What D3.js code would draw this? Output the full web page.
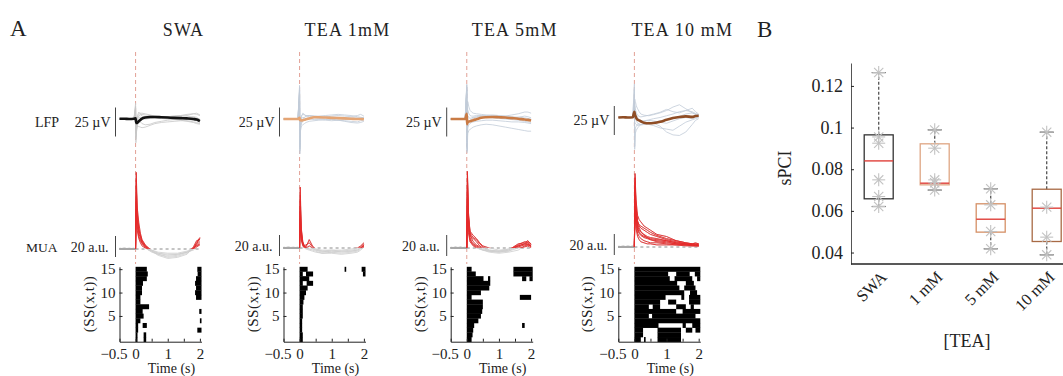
<!DOCTYPE html>
<html><head><meta charset="utf-8">
<script src="https://cdn.jsdelivr.net/npm/d3@7"></script>
<style>
body{margin:0;background:#fff;}
svg{display:block;}
text{font-family:"Liberation Serif","DejaVu Serif",serif;fill:#222;}
</style></head><body>
<svg id="fig" width="1063" height="376"></svg>
<script>
// ---------- Panel A: evoked responses ----------
const conditions = ["SWA", "TEA 1mM", "TEA 5mM", "TEA 10 mM"];

// LFP sample times (s) and traces (µV)
const lfpTime = [-0.5, -0.35, -0.2, -0.05, 0, 0.01, 0.03, 0.06, 0.1, 0.15, 0.2, 0.3, 0.45, 0.6, 0.8, 1.0, 1.2, 1.4, 1.6, 1.8, 1.9, 2.0];

const lfpMeanSWA  = [0.5, 0.5, 0, 0.5, 1, -3, -7, -6, -4, -1.5, 0.5, 2.5, 3.5, 3.5, 3, 2.5, 2, 1.5, 1, 0, -1, -3.5];
const lfpMean1mM  = [0, 0, 0, 0, 2, -2, -2, -2.5, -2, -1.5, -0.5, 1, 3, 3, 2.5, 2, 1.5, 1, 0.5, 0, 0, -0.5];
const lfpMean5mM  = [0, 0, 0, 0, 9, -9, -5, -4.5, -4, -3, -2, -0.5, 2, 3, 3.5, 3, 2.5, 1.5, 0.5, -1, -1.5, -2.5];
const lfpMean10mM = [0, 0.5, 0, 0.5, 10, 7, 3, -1, -4, -5, -6.5, -9, -10, -9.5, -7.5, -4, -1, 1, 2, 1, 2.5, 3];

const lfpTrialsSWA = [
  [0, 0.5, 0, 0, 27, -10, -4, 2, 5, 7, 8, 7, 6, 5, 3, 2, 2, 4, 6, 9, 10, 7],
  [0, 0, -0.5, 0, 12, -41, -22, -10, -5, -1, 2, 4, 5, 4, 3, 2, 1, 0, -1, -2, -3, -6],
  [0.5, 0, 0, 0, 18, -30, -15, -12, -13, -14, -15, -14, -11, -8, -6, -5, -4, -3, -3, -5, -6, -8],
  [0, 0, 0.5, 0, 8, -20, -4, 4, 8, 10, 10, 9, 7, 5, 4, 4, 5, 6, 8, 9, 8, 6],
  [0, -0.5, 0, 0, 22, -35, -18, -8, -3, -5, -8, -10, -9, -6, -4, -2, -1, -2, -4, -6, -8, -9],
  [0, 0, 0, 0.5, 15, -26, -9, -1, 3, 3, 2, 0, 1, 2, 3, 4, 5, 6, 5, 3, 1, 0],
  [0, 0, 0, 0, 20, -15, 0, 6, 12, 9, 5, 3, 2, 2, 1, 0, -1, 0, 2, 4, 3, -2]
];
const lfpTrials1mM = [
  [0, 0, 0, 0, 58, -55, -10, 4, 10, 8, 5, 4, 3, 2, 3, 5, 6, 5, 4, 6, 8, 5],
  [0, 0.5, 0, 0, 50, -60, -20, -12, -10, -8, -6, -4, -3, -2, -1, 0, -2, -3, -4, -5, -3, -2],
  [0, 0, 0, 0, 45, -48, -5, 6, 8, 7, 6, 6, 5, 5, 6, 7, 8, 7, 6, 4, 3, 2],
  [0, 0, -0.5, 0, 55, -40, -12, -6, -4, -2, 0, 1, 2, 1, 0, -1, -2, -4, -6, -7, -6, -4],
  [0, 0, 0, 0, 40, -52, -8, 0, 3, 2, 1, 0, -1, -1, -2, -3, -2, -1, 0, 1, 2, 3],
  [0.5, 0, 0, 0, 48, -45, -15, -8, -2, 3, 5, 6, 5, 4, 4, 3, 3, 2, 2, 2, 1, 0]
];
const lfpTrials5mM = [
  [0, 0, 0, 0, 60, -50, 30, 22, 15, 12, 10, 9, 8, 7, 6, 5, 5, 7, 9, 12, 12, 10],
  [0, 0, 0, 0, 55, -58, -25, -20, -18, -16, -14, -12, -10, -9, -10, -12, -14, -16, -18, -20, -21, -21],
  [0, 0.5, 0, 0, 50, -45, 15, 10, 6, 5, 5, 6, 6, 5, 4, 3, 2, 1, 3, 5, 4, 2],
  [0, 0, 0, 0, 58, -52, -15, -10, -8, -6, -5, -4, -3, -2, -2, -3, -4, -5, -5, -6, -7, -8],
  [0, 0, 0.5, 0, 45, -40, 5, 3, 1, 2, 3, 4, 5, 6, 7, 6, 5, 4, 3, 2, 1, 0],
  [0, 0, 0, 0, 52, -55, -8, -5, -2, 0, 2, 3, 4, 3, 2, 1, 0, -1, -2, -4, -5, -6]
];
const lfpTrials10mM = [
  [0, 0, 0, 0, 25, 32, 28, 20, 15, 10, 6, 4, 3, 5, 8, 12, 18, 22, 15, 8, 6, 4],
  [0, 0, 0, 0, 58, -55, -27, -22, -18, -15, -12, -10, -8, -10, -15, -25, -30, -31, -25, -12, -5, -2],
  [0, 0.5, 0, 0, 15, 10, 5, -5, -10, -12, -13, -12, -10, -8, -6, -4, -2, 2, 6, 8, 5, 3],
  [0, 0, 0, 0, 18, 20, 12, 5, 0, -3, -5, -6, -4, -2, 0, 3, 6, 10, 12, 10, 7, 5],
  [0, 0, 0, 0, 50, -50, -18, -15, -12, -10, -8, -6, -5, -6, -8, -10, -6, -2, 0, -2, 0, 1],
  [0, 0, -0.5, 0, 22, 25, 15, 8, 4, 2, 1, 2, 4, 6, 9, 14, 10, 8, 12, 16, 10, 6],
  [0, 0, 0, 0, 16, -8, -10, -12, -14, -13, -12, -11, -12, -14, -18, -20, -22, -15, -8, -4, -2, 0]
];

// MUA sample times (s) and channel envelopes (a.u.)
const muaTime = [-0.5, -0.35, -0.2, -0.05, 0, 0.02, 0.05, 0.1, 0.15, 0.2, 0.3, 0.4, 0.5, 0.7, 1.0, 1.3, 1.6, 1.8, 1.9, 2.0];

const muaSWA = [
  [0, 0.5, 0, 0, 0, 73, 40, 25, 15, 9, 4, 1, -1, -4, -6, -5, -3, 1, 6, 11],
  [0, 0, 0.5, 0, 0, 60, 35, 20, 12, 7, 3, 0, -2, -6, -9, -8, -5, 2, 8, 9],
  [0.5, 0, 0, 0, 0, 50, 28, 15, 10, 6, 2, -1, -3, -5, -7, -6, -3, 0, 4, 7],
  [0, 0, 0, 0.5, 0, 45, 22, 12, 8, 5, 2, 0, -1, -3, -4, -4, -2, 1, 3, 5],
  [0, 0, 0, 0, 0, 66, 30, 18, 13, 8, 3, 1, -2, -5, -8, -7, -4, 0, 5, 10],
  [0, 0.5, 0, 0, 0, 38, 18, 10, 6, 3, 1, -1, -2, -4, -5, -5, -3, -1, 2, 4]
];
const mua1mM = [
  [0, 0, 0.5, 0, 0, 58, 20, 6, 2, 1, 8, 2, -1, -3, -2, -3, -2, -1, 1, 4],
  [0, 0.5, 0, 0, 0, 45, 15, 4, 1, 0, 2, 0, -2, -4, -3, -4, -3, -2, 0, 2],
  [0.5, 0, 0, 0, 0, 35, 10, 3, 1, 0, -1, -2, -3, -5, -4, -5, -4, -3, -1, 3],
  [0, 0, 0, 0.5, 0, 50, 18, 5, 2, 3, 5, 1, -1, -2, -2, -2, -1, 0, 2, 5],
  [0, 0, 0, 0, 0, 28, 8, 2, 0, -1, -2, -3, -4, -5, -5, -6, -5, -4, -2, 1],
  [0, 0.5, 0, 0, 0, 40, 12, 4, 1, 0, -1, -1, -2, -3, -4, -3, -3, -2, 0, 2]
];
const mua5mM = [
  [0, 0, 0.5, 0, 0, 73, 35, 15, 12, 10, 8, 4, 1, -2, -3, -2, 3, 6, 5, 2],
  [0, 0.5, 0, 0, 0, 60, 28, 12, 10, 9, 6, 2, 0, -3, -4, -2, 4, 5, 7, 3],
  [0.5, 0, 0, 0, 0, 55, 22, 10, 6, 4, 2, 0, -2, -3, -4, -3, 2, 4, 4, 1],
  [0, 0, 0, 0.5, 0, 66, 30, 14, 9, 6, 3, 1, -1, -2, -3, -1, 1, 3, 6, 4],
  [0, 0, 0, 0, 0, 48, 18, 8, 5, 3, 1, -1, -2, -4, -5, -4, -2, 2, 3, 2],
  [0, 0.5, 0, 0, 0, 40, 15, 6, 4, 2, 0, -1, -2, -3, -3, -3, 0, 1, 2, 0],
  [0, 0, 0.5, 0, 0, 70, 32, 16, 14, 12, 9, 5, 2, 0, -2, -1, 2, 4, 3, 2]
];
const mua10mM = [
  [0, 0, 0.5, 0, 0, 70, 45, 30, 26, 24, 20, 18, 16, 12, 10, 6, 4, 3, 3, 3],
  [0, 0.5, 0, 0, 0, 62, 38, 25, 20, 18, 16, 14, 12, 10, 7, 5, 3, 2, 2, 2],
  [0.5, 0, 0, 0, 0, 55, 30, 20, 16, 14, 12, 10, 9, 8, 6, 4, 3, 3, 4, 3],
  [0, 0, 0, 0.5, 0, 66, 40, 22, 18, 15, 11, 9, 7, 6, 5, 3, 2, 2, 2, 1],
  [0, 0, 0, 0, 0, 50, 26, 16, 13, 11, 9, 8, 7, 5, 4, 3, 2, 2, 1, 1],
  [0, 0.5, 0, 0, 0, 45, 22, 13, 10, 8, 6, 5, 4, 4, 3, 2, 2, 1, 1, 1],
  [0, 0, 0.5, 0, 0, 58, 34, 24, 21, 20, 18, 16, 14, 11, 8, 6, 4, 3, 3, 2],
  [0, 0, 0, 0, 0, 40, 18, 10, 7, 5, 4, 3, 3, 2, 2, 2, 1, 1, 1, 1],
  [0, 0, 0, 0.5, 0, 48, 28, 18, 14, 12, 10, 9, 8, 7, 6, 4, 3, 2, 2, 2]
];

// Binarised significance per channel: [channel, start (s), end (s)]
const rasterSWA = [
  [15, 0, 0.35], [15, 1.92, 2.05], [14, 0, 0.38], [14, 1.93, 2.05], [13, 0, 0.35], [13, 1.88, 2.05],
  [12, 0, 0.23], [12, 1.85, 2.05], [11, 0, 0.2], [11, 1.88, 2.05], [10, 0, 0.2], [10, 1.85, 2.05],
  [9, 0, 0.15], [9, 1.88, 2.05], [8, 0, 0.15], [7, 0, 0.42], [6, 0, 0.22], [6, 1.98, 2.05],
  [5, 0, 0.25], [4, 0, 0.15], [4, 2.0, 2.05], [3, 0, 0.08], [3, 0.22, 0.35], [2, 0, 0.08], [2, 1.92, 2.05],
  [1, 0, 0.06], [1, 0.25, 0.33], [0, 0, 0.06], [0, 0.25, 0.33]
];
const raster1mM = [
  [15, 0, 0.25], [15, 1.4, 1.45], [15, 1.93, 2.05], [14, 0, 0.1], [14, 0.2, 0.42], [14, 1.97, 2.05],
  [13, 0, 0.3], [12, 0, 0.1], [12, 0.22, 0.42], [11, 0, 0.25], [10, 0, 0.2], [9, 0, 0.15],
  [8, 0, 0.12], [7, 0, 0.1], [6, 0, 0.1], [5, 0, 0.1], [4, 0, 0.08], [3, 0, 0.08],
  [2, 0, 0.08], [1, 0, 0.1], [0, 0, 0.1]
];
const raster5mM = [
  [15, 0, 0.15], [15, 1.45, 2.05], [14, 0, 0.28], [14, 1.45, 2.05], [13, 0, 0.52], [13, 0.66, 0.73],
  [13, 1.72, 1.85], [13, 1.95, 2.05], [12, 0, 0.73], [11, 0, 0.7], [10, 0, 0.44], [9, 0, 0.15], [9, 1.65, 2.0],
  [8, 0, 0.5], [7, 0, 0.5], [6, 0, 0.48], [5, 0, 0.44], [4, 0, 0.36], [3, 0, 0.23], [3, 1.72, 1.8],
  [2, 0, 0.2], [1, 0, 0.18], [0, 0, 0.15]
];
const raster10mM = [
  [15, 0, 2.05], [14, 0, 1.05], [14, 1.3, 1.72], [14, 1.88, 2.05], [13, 0, 1.1], [13, 1.25, 1.8], [13, 1.95, 2.05],
  [12, 0, 1.33], [12, 1.6, 1.85], [11, 0, 1.4], [11, 1.55, 1.9], [10, 0, 1.55], [10, 1.73, 1.95],
  [9, 0, 0.97], [9, 1.46, 1.55], [9, 1.7, 2.05], [8, 0, 0.8], [8, 1.05, 1.3], [8, 1.7, 2.05],
  [7, 0, 0.45], [7, 0.57, 0.8], [7, 1.3, 1.6], [7, 1.75, 1.85], [6, 0, 1.3], [6, 1.5, 2.05],
  [5, 0, 0.45], [5, 0.55, 1.9], [4, 0, 2.05], [3, 0, 0.75], [3, 1.5, 1.6], [3, 1.8, 2.05],
  [2, 0, 0.27], [2, 0.72, 1.45], [2, 1.6, 1.8], [2, 1.9, 2.05], [1, 0, 0.27], [1, 0.72, 1.45],
  [0, 0, 0.2], [0, 0.3, 0.35], [0, 0.72, 1.45]
];

const rasterTicks = [-0.5, 0, 0.5, 1, 1.5, 2];
const rasterTickLabels = ["\u22120.5", "0", "", "1", "", "2"];
const channelTicks = [5, 10, 15];

// ---------- Panel B: sPCI ----------
const groups = ["SWA", "1 mM", "5 mM", "10 mM"];
const spciPoints = [
  [0.1264, 0.0955, 0.0925, 0.0749, 0.0669, 0.0621],
  [0.0989, 0.0901, 0.0749, 0.0735, 0.0700],
  [0.0706, 0.0629, 0.0501, 0.0418],
  [0.0978, 0.0618, 0.0474, 0.0389]
];
const boxQ1 = [0.0658, 0.0725, 0.0498, 0.0453];
const boxMedian = [0.0840, 0.0733, 0.0560, 0.0613];
const boxQ3 = [0.0965, 0.0922, 0.0634, 0.0704];
const whiskerLow = [0.0621, 0.0700, 0.0418, 0.0389];
const whiskerHigh = [0.1264, 0.0989, 0.0706, 0.0978];
const spciTicks = [0.04, 0.06, 0.08, 0.1, 0.12];
const spciTickLabels = ["0.04", "0.06", "0.08", "0.1", "0.12"];

// ---------- drawing ----------
const svg = d3.select("#fig");
const SERIF = '"Liberation Serif","DejaVu Serif",serif';

const panels = [
  {title: conditions[0], mean: lfpMeanSWA, trials: lfpTrialsSWA, mua: muaSWA, raster: rasterSWA},
  {title: conditions[1], mean: lfpMean1mM, trials: lfpTrials1mM, mua: mua1mM, raster: raster1mM},
  {title: conditions[2], mean: lfpMean5mM, trials: lfpTrials5mM, mua: mua5mM, raster: raster5mM},
  {title: conditions[3], mean: lfpMean10mM, trials: lfpTrials10mM, mua: mua10mM, raster: raster10mM}
];
const zeroX = [139.5, 303.5, 470.7, 638.3];
const meanColor = ["#111111", "#e5a574", "#c97b45", "#8f4d25"];
const trialColor = ["#c6c6c6", "#c2ccd8", "#c2ccd8", "#c2ccd8"];
const lfpBase = [119, 119, 119, 117.5];
const muaBase = [249, 248, 248, 247];

svg.append("text").attr("x", 10).attr("y", 36).attr("font-size", 23).text("A");
svg.append("text").attr("x", 35).attr("y", 127).attr("font-size", 14).text("LFP");
svg.append("text").attr("x", 26).attr("y", 252).attr("font-size", 13.5).text("MUA");

function styleAxis(sel, size) {
  sel.attr("font-family", SERIF).attr("font-size", size);
  sel.selectAll("path,line").attr("stroke", "#222");
  sel.selectAll("text").attr("fill", "#222");
}

panels.forEach((p, i) => {
  const z = zeroX[i];
  const x = d3.scaleLinear().domain([-0.5, 2.05]).range([z - 20, z + 62]);
  const g = svg.append("g");

  g.append("text").attr("x", z + 44).attr("y", 36).attr("text-anchor", "middle")
    .attr("font-size", 18).attr("letter-spacing", 1.2).text(p.title);

  // stimulus onset
  g.append("line").attr("x1", x(0)).attr("x2", x(0)).attr("y1", 52).attr("y2", 264)
    .attr("stroke", "#e2a095").attr("stroke-width", 1).attr("stroke-dasharray", "4,3");

  // LFP
  const yL = d3.scaleLinear().domain([-25, 25]).range([lfpBase[i] + 14.5, lfpBase[i] - 14.5]);
  const clipL = "clipL" + i;
  svg.append("clipPath").attr("id", clipL).append("rect")
    .attr("x", z - 22).attr("y", 52).attr("width", 90).attr("height", 135);
  const lineL = d3.line().x((d, k) => x(lfpTime[k])).y(d => yL(d));
  const gl = g.append("g").attr("clip-path", `url(#${clipL})`);
  p.trials.forEach(tr => gl.append("path").attr("d", lineL(tr)).attr("fill", "none")
    .attr("stroke", trialColor[i]).attr("stroke-width", 0.8));
  gl.append("path").attr("d", lineL.curve(d3.curveMonotoneX)(p.mean)).attr("fill", "none")
    .attr("stroke", meanColor[i]).attr("stroke-width", 2.6).attr("stroke-linejoin", "round");

  const barX = z - 24;
  g.append("line").attr("x1", barX).attr("x2", barX).attr("y1", yL(0) - 11.5).attr("y2", yL(0) + 17.5)
    .attr("stroke", "#444").attr("stroke-width", 1);
  g.append("text").attr("x", z - 29).attr("y", yL(0) + 7.5).attr("text-anchor", "end")
    .attr("font-size", 14).text("25 \u00B5V");

  // MUA
  const yM = d3.scaleLinear().domain([0, 20]).range([muaBase[i], muaBase[i] - 21]);
  const lineM = d3.line().x((d, k) => x(muaTime[k])).y(d => yM(d));
  g.append("line").attr("x1", x(0)).attr("x2", x(2)).attr("y1", yM(0)).attr("y2", yM(0))
    .attr("stroke", "#8a8a8a").attr("stroke-width", 1).attr("stroke-dasharray", "3,3");
  p.mua.forEach(ch => g.append("path").attr("d", lineM(ch)).attr("fill", "none")
    .attr("stroke", "#cdcdcd").attr("stroke-width", 0.8));
  const pre = d3.line().defined((d, k) => muaTime[k] <= 0).x((d, k) => x(muaTime[k])).y(d => yM(d));
  p.mua.forEach(ch => g.append("path").attr("d", pre(ch)).attr("fill", "none")
    .attr("stroke", "#a8a8a8").attr("stroke-width", 1.3));
  const clipM = "clipM" + i;
  svg.append("clipPath").attr("id", clipM).append("rect")
    .attr("x", z - 22).attr("y", 140).attr("width", 90).attr("height", yM(0) - 140 - 0.3);
  const post = d3.line().defined((d, k) => muaTime[k] >= 0).x((d, k) => x(muaTime[k])).y(d => yM(d));
  const gm = g.append("g").attr("clip-path", `url(#${clipM})`);
  p.mua.forEach(ch => gm.append("path").attr("d", post(ch)).attr("fill", "none")
    .attr("stroke", "#e52a2a").attr("stroke-width", 0.9));

  g.append("line").attr("x1", barX).attr("x2", barX).attr("y1", yM(0) - 13).attr("y2", yM(0) + 8)
    .attr("stroke", "#444").attr("stroke-width", 1);
  g.append("text").attr("x", z - 31).attr("y", yM(0) + 3).attr("text-anchor", "end")
    .attr("font-size", 14).text("20 a.u.");

  // raster
  const yR = d3.scaleLinear().domain([-0.5, 15.5]).range([341.7, 266.8]);
  g.append("g").selectAll("rect").data(p.raster).join("rect")
    .attr("x", d => x(d[1])).attr("width", d => x(d[2]) - x(d[1]))
    .attr("y", d => yR(d[0] + 0.5)).attr("height", d => yR(d[0] - 0.5) - yR(d[0] + 0.5) + 0.3)
    .attr("fill", "#000");

  const ax = g.append("g").attr("transform", `translate(0,${yR(-0.5)})`)
    .call(d3.axisBottom(x).tickValues(rasterTicks).tickFormat((d, k) => rasterTickLabels[k])
      .tickSize(-3).tickSizeOuter(0).tickPadding(7));
  styleAxis(ax, 15);
  // the leftmost label sits a little left of its tick
  ax.selectAll(".tick text").filter(d => d === -0.5).attr("dx", -6);
  const ay = g.append("g").attr("transform", `translate(${x(-0.5)},0)`)
    .call(d3.axisLeft(yR).tickValues(channelTicks).tickSize(-3).tickSizeOuter(0).tickPadding(4));
  styleAxis(ay, 15);

  g.append("text").attr("x", z + 32).attr("y", 373).attr("text-anchor", "middle")
    .attr("font-size", 14).text("Time (s)");
  g.append("text").attr("transform", `translate(${z - 46},${304}) rotate(-90)`)
    .attr("text-anchor", "middle").attr("font-size", 15).attr("letter-spacing", 0.5).text("(SS(x,t))");
});

// ---------- Panel B ----------
svg.append("text").attr("x", 757).attr("y", 37).attr("font-size", 23).text("B");

const yB = d3.scaleLinear().domain([0.0345, 0.131]).range([264, 63]);
const xB = d3.scalePoint().domain(groups).range([878.7, 1046.7]);
const boxColor = ["#333333", "#dfa684", "#d59066", "#a86a45"];
const boxW = 29;

const gB = svg.append("g");
const ayB = gB.append("g").attr("transform", "translate(851,0)")
  .call(d3.axisLeft(yB).tickValues(spciTicks).tickFormat((d, k) => spciTickLabels[k])
    .tickSize(-3).tickSizeOuter(0).tickPadding(8));
styleAxis(ayB, 18);
ayB.select(".domain").attr("stroke", "#555");
gB.append("line").attr("x1", 851).attr("x2", 1063).attr("y1", yB.range()[0]).attr("y2", yB.range()[0])
  .attr("stroke", "#222").attr("stroke-width", 1.6);

function star(cx, cy, r) {
  [0, 45, 90, 135].forEach(a => {
    const rad = a * Math.PI / 180, dx = Math.cos(rad) * r, dy = Math.sin(rad) * r;
    gB.append("line").attr("x1", cx - dx).attr("x2", cx + dx).attr("y1", cy - dy).attr("y2", cy + dy)
      .attr("stroke", "#c2c2c2").attr("stroke-width", 1.1);
  });
}

groups.forEach((grp, i) => {
  const cx = xB(grp);
  // whiskers
  [[boxQ3[i], whiskerHigh[i]], [boxQ1[i], whiskerLow[i]]].forEach(([a, b]) => {
    gB.append("line").attr("x1", cx).attr("x2", cx).attr("y1", yB(a)).attr("y2", yB(b))
      .attr("stroke", "#555").attr("stroke-width", 1.3).attr("stroke-dasharray", "3,2");
    gB.append("line").attr("x1", cx - 7).attr("x2", cx + 7).attr("y1", yB(b)).attr("y2", yB(b))
      .attr("stroke", "#444").attr("stroke-width", 1.2);
  });
  gB.append("rect").attr("x", cx - boxW / 2).attr("width", boxW)
    .attr("y", yB(boxQ3[i])).attr("height", yB(boxQ1[i]) - yB(boxQ3[i]))
    .attr("fill", "none").attr("stroke", boxColor[i]).attr("stroke-width", 1.3);
  gB.append("line").attr("x1", cx - boxW / 2).attr("x2", cx + boxW / 2)
    .attr("y1", yB(boxMedian[i])).attr("y2", yB(boxMedian[i]))
    .attr("stroke", "#e0403a").attr("stroke-width", 1.4);
  spciPoints[i].forEach(v => star(cx, yB(v), 6.5));

  gB.append("text").attr("transform", `translate(${cx + 2},${271}) rotate(-45)`)
    .attr("text-anchor", "end").attr("dy", "0.6em").attr("font-size", 16.5).text(grp);
});

gB.append("text").attr("x", 967).attr("y", 347).attr("text-anchor", "middle")
  .attr("font-size", 18).text("[TEA]");
gB.append("text").attr("transform", "translate(791,168) rotate(-90)")
  .attr("text-anchor", "middle").attr("font-size", 18).text("sPCI");
</script></body></html>
